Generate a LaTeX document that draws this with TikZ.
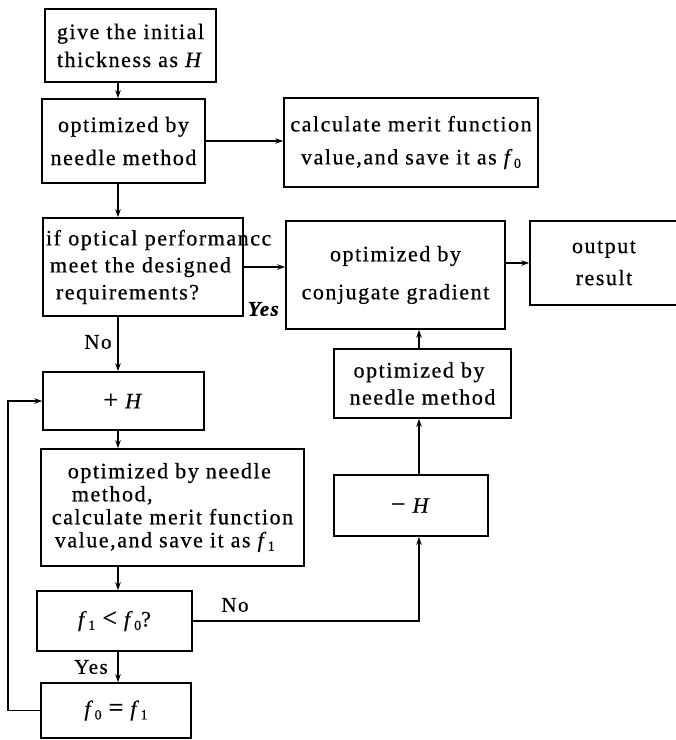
\documentclass[tikz,border=0pt]{standalone}
\usepackage{fontspec}
\setmainfont{Liberation Serif}[LetterSpace=7,FakeBold=0.6]
\usetikzlibrary{arrows.meta}
\newcommand{\mysub}[1]{\raisebox{-0.35ex}{\fontsize{14}{14}\selectfont #1}}
\newcommand{\iH}{\textit{H}}
\newcommand{\iF}[1]{\textit{f}\mysub{#1}}
\begin{document}
\begin{tikzpicture}[x=1pt,y=-1pt,
  flowbox/.style={draw, line width=1.6pt, rectangle, inner sep=0pt},
  arr/.style={line width=1.5pt, -{Stealth[length=8pt,width=5.5pt]}},
  lbl/.style={inner sep=0pt, font=\fontsize{21}{22}\selectfont}]
\useasboundingbox (0,0) rectangle (676,740);
\node[flowbox, minimum width=171pt, minimum height=73pt, align=left, font=\fontsize{22}{28}\selectfont] (b1) at (130.5,45.5) {give the initial\\thickness as \iH};
\node[flowbox, minimum width=163pt, minimum height=84pt, align=center, font=\fontsize{22}{33}\selectfont] (b2) at (123.5,141) {optimized by\\needle method};
\node[flowbox, minimum width=254pt, minimum height=89pt, align=center, font=\fontsize{22}{33}\selectfont] (b3) at (411,142.5) {calculate merit function\\value,and save it as \iF{0}};
\node[flowbox, minimum width=200pt, minimum height=98pt, align=left, text width=194pt, font=\fontsize{22}{27}\selectfont] (b4) at (143,267) {\mbox{if optical performancc}\\\mbox{\hspace{4pt}meet the designed}\\\mbox{\hspace{10pt}requirements?}};
\node[flowbox, minimum width=219pt, minimum height=108pt, align=center, font=\fontsize{22}{38}\selectfont] (b5) at (395.5,275) {optimized by\\conjugate gradient};
\node[flowbox, minimum width=148pt, minimum height=84pt, align=center, font=\fontsize{22}{32}\selectfont] (b6) at (604,263) {output\\result};
\node[flowbox, minimum width=161pt, minimum height=58pt, font=\fontsize{22}{24}\selectfont] (b7) at (123.5,401) {{\fontsize{26}{26}\selectfont +} \iH};
\node[flowbox, minimum width=177pt, minimum height=69pt, align=left, font=\fontsize{22}{27}\selectfont] (b8) at (422.5,383.5) {\hspace{4pt}optimized by\\needle method};
\node[flowbox, minimum width=263pt, minimum height=117pt, align=left, font=\fontsize{22}{23}\selectfont] (b9) at (172.5,507.5) {\hspace{16pt}optimized by needle\\\hspace{20pt}method,\\calculate merit function\\\hspace{3pt}value,and save it as \iF{1}};
\node[flowbox, minimum width=154pt, minimum height=61pt, font=\fontsize{22}{24}\selectfont] (b10) at (411,505.5) {{\fontsize{26}{26}\selectfont −} \iH};
\node[flowbox, minimum width=155pt, minimum height=60pt, font=\fontsize{22}{24}\selectfont] (b11) at (114.5,621) {\iF{1} {\fontsize{26}{26}\selectfont <} \iF{0}?};
\node[flowbox, minimum width=150pt, minimum height=55pt, font=\fontsize{22}{24}\selectfont] (b12) at (116,710.5) {\iF{0} {\fontsize{26}{26}\selectfont =} \iF{1}};
\coordinate (sp) at (118,0);
\coordinate (lp) at (8,0);
\coordinate (rc) at (419,0);
\draw[arr] (b1.south -| sp) -- (b2.north -| sp);
\draw[arr] (b2.south -| sp) -- (b4.north -| sp);
\draw[arr] (b2.east) -- (b2.east -| b3.west);
\draw[arr] (b4.east) -- (b4.east -| b5.west);
\draw[arr] (b5.east |- b6.west) -- (b6.west);
\draw[arr] (b4.south -| sp) -- (b7.north -| sp);
\draw[arr] (b7.south -| sp) -- (b9.north -| sp);
\draw[arr] (b9.south -| sp) -- (b11.north -| sp);
\draw[arr] (b11.south -| sp) -- (b12.north -| sp);
\draw[arr] (b12.west) -- (b12.west -| lp) -- (b7.west -| lp) -- (b7.west);
\draw[arr] (b11.east) -- (b11.east -| rc) -- (b10.south -| rc);
\draw[arr] (b10.north -| rc) -- (b8.south -| rc);
\draw[arr] (b8.north -| rc) -- (b5.south -| rc);
\node[lbl] (lno1) at (98,342) {No};
\node[lbl] (lyes1) at (264,309) {\textbf{\textit{Yes}}};
\node[lbl] (lyes2) at (91,667) {Yes};
\node[lbl] (lno2) at (235,605) {No};
\end{tikzpicture}
\end{document}
